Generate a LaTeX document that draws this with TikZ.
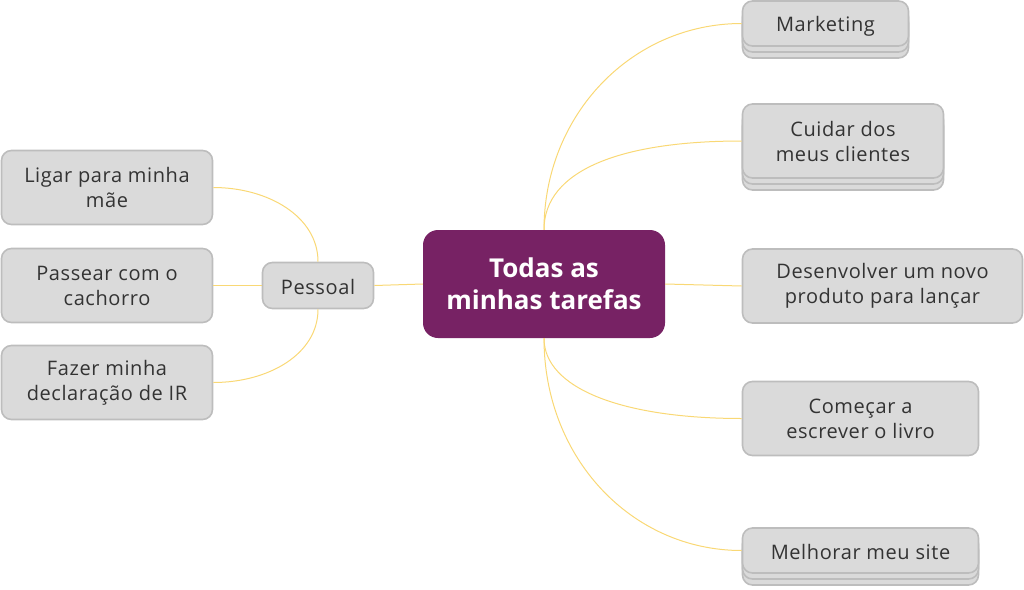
\documentclass[tikz,border=0pt]{standalone}
\usepackage{fontspec}
\setmainfont{Open Sans}[LetterSpace=3]
\newfontfamily\rootfont{Open Sans}
\usetikzlibrary{shadows}
\definecolor{boxfill}{HTML}{DADADA}
\definecolor{boxline}{HTML}{BDBDBD}
\definecolor{txt}{HTML}{333333}
\definecolor{central}{HTML}{772264}
\definecolor{link}{HTML}{F9D875}
\tikzset{
  topic/.style={draw=boxline, line width=1.6pt, fill=boxfill, rounded corners=10pt,
    text=txt, font=\fontsize{20}{25}\selectfont, align=center, inner sep=0pt},
  stacked/.style={double copy shadow={shadow xshift=0pt, shadow yshift=-6pt}},
  rootbox/.style={fill=central, rounded corners=15pt, text=white,
    font=\rootfont\fontsize{26}{32}\selectfont\bfseries, align=center, inner sep=0pt},
  conn/.style={draw=link, line width=1pt}
}
\begin{document}
\begin{tikzpicture}[x=1pt,y=-1pt]
\useasboundingbox (0,0) rectangle (1024,589);
\node[rootbox, minimum width=242pt, minimum height=108pt] (root) at (544,284) {Todas as\\minhas tarefas};
\node[topic, stacked, minimum width=166pt, minimum height=45pt] (mkt) at (825.5,23.5) {\raisebox{-2.5pt}[\height][\depth]{Marketing}};
\node[topic, stacked, minimum width=201pt, minimum height=74pt] (cli) at (843,141) {Cuidar dos\\meus clientes};
\node[topic, minimum width=280pt, minimum height=74pt] (dev) at (882.5,286) {Desenvolver um novo\\produto para lançar};
\node[topic, minimum width=236pt, minimum height=74pt] (liv) at (860.5,418.5) {Começar a\\escrever o livro};
\node[topic, stacked, minimum width=236pt, minimum height=45pt] (site) at (860.5,550.5) {\raisebox{-1pt}[\height][\depth]{Melhorar meu site}};
\node[topic, minimum width=111pt, minimum height=46pt] (pes) at (318,285.5) {\raisebox{-1pt}[\height][\depth]{Pessoal}};
\node[topic, minimum width=211pt, minimum height=74pt] (mae) at (107,187.5) {Ligar para minha\\mãe};
\node[topic, minimum width=211pt, minimum height=74pt] (cao) at (107,285.5) {Passear com o\\cachorro};
\node[topic, minimum width=211pt, minimum height=74pt] (ir) at (107,382.5) {Fazer minha\\declaração de IR};
\draw[conn] (root.north) .. controls +(0,-115) and +(-110,0) .. (mkt.west);
\draw[conn] (root.north) .. controls +(0,-60) and +(-120,0) .. (cli.west);
\draw[conn] (root.east) -- (dev.west);
\draw[conn] (root.south) .. controls +(0,50) and +(-120,0) .. (liv.west);
\draw[conn] (root.south) .. controls +(0,120) and +(-110,0) .. (site.west);
\draw[conn] (root.west) -- (pes.east);
\draw[conn] (pes.north) .. controls +(0,-45) and +(55,0) .. (mae.east);
\draw[conn] (pes.west) -- (cao.east);
\draw[conn] (pes.south) .. controls +(0,45) and +(55,0) .. (ir.east);
\end{tikzpicture}
\end{document}
